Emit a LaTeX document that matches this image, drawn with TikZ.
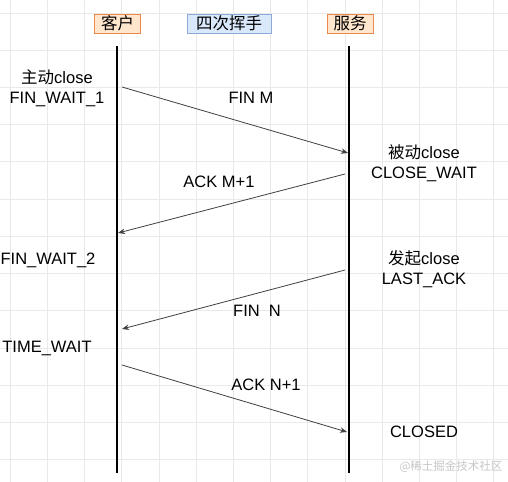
\documentclass[tikz,border=0pt]{standalone}
\usepackage{fontspec}
\setmainfont{Liberation Sans}
\newfontfamily\cjk{Noto Sans CJK SC}
\usetikzlibrary{arrows.meta,positioning}
\definecolor{orline}{HTML}{EA8850}
\definecolor{orfill}{HTML}{FFE6CC}
\definecolor{blline}{HTML}{8EA9D6}
\definecolor{blfill}{HTML}{DAE8FC}
\definecolor{gridc}{HTML}{E9E9E9}
\tikzset{hd/.style={draw=orline,fill=orfill,minimum width=46bp,minimum height=19bp,inner sep=0pt,font=\cjk\fontsize{16.5bp}{19bp}\selectfont},
 hb/.style={hd,draw=blline,fill=blfill,minimum width=84bp},
 life/.style={line width=2bp,black},
 msg/.style={-{Stealth[length=7bp,width=5.5bp]},line width=.8bp,black!75},
 lab/.style={align=center,inner sep=0pt,font=\fontsize{16.5bp}{20bp}\selectfont}}

\begin{document}
\begin{tikzpicture}[x=1bp,y=-1bp]
\useasboundingbox (0,0) rectangle (508,482);
\fill[white] (0,0) rectangle (508,482);
\foreach \i in {0,...,13}{\draw[gridc,line width=.6bp] ({10+37.2*\i},0)--({10+37.2*\i},482);}
\foreach \i in {0,...,12}{\draw[gridc,line width=.6bp] (0,{13+37.2*\i})--(508,{13+37.2*\i});}
% heads
\node[hd](kh) at (117.5,23.5){客户};\node[hb](hs) at (229,23.5){四次挥手};
\node[hd](fw) at (350,23.5){服务};
% lifelines
\coordinate(kt) at (117,46);\coordinate(kb) at (117,473);
\coordinate(ft) at (349,46);\coordinate(fb) at (349,473);
\draw[life](kt)--(kb);\draw[life](ft)--(fb);
% messages
\coordinate(a1) at (122,87);\coordinate(b1) at (348,153);
\coordinate(a2) at (345,174);\coordinate(b2) at (118,233);
\coordinate(a3) at (345,270);\coordinate(b3) at (122,329);
\coordinate(a4) at (122,365);\coordinate(b4) at (347,432);
\draw[msg](a1)--(b1);\draw[msg](a2)--(b2);\draw[msg](a3)--(b3);\draw[msg](a4)--(b4);
\node[lab](m1) at (251,98){FIN M};\node[lab](m2) at (219,182){ACK M+1};
\node[lab](m3) at (257,311){FIN\ \ N};\node[lab](m4) at (266,385){ACK N+1};
% states
\node[lab](s1) at (57,88.5){{\cjk 主动}close\\FIN\_WAIT\_1};
\node[lab](s2) at (48,260){FIN\_WAIT\_2};\node[lab](s3) at (47,348){TIME\_WAIT};
\node[lab](r1) at (424,163){{\cjk 被动}close\\CLOSE\_WAIT};
\node[lab](r2) at (424,269.5){{\cjk 发起}close\\LAST\_ACK};
\node[lab](r3) at (424,432){CLOSED};
\node[font=\cjk\fontsize{11.5bp}{13bp}\selectfont,text=black!22,inner sep=0pt](wm) at (451,467){@稀土掘金技术社区};
\end{tikzpicture}
\end{document}
